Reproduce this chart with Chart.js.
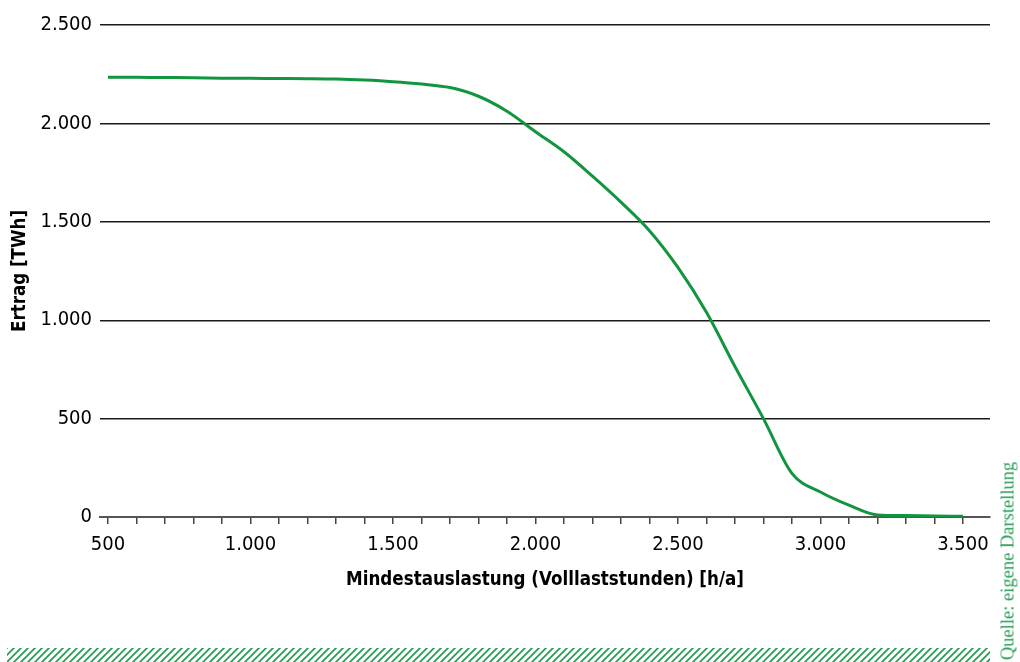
<!DOCTYPE html>
<html lang="de">
<head>
<meta charset="utf-8">
<script src="https://cdn.jsdelivr.net/npm/chart.js@4.4.1/dist/chart.umd.min.js"></script>
<style>
  html, body { margin: 0; padding: 0; background: #fff; }
  #wrap { position: relative; width: 1020px; height: 662px; overflow: hidden; }
  #c { position: absolute; left: 0; top: 0; }
  #hatch {
    position: absolute; left: 7px; top: 648px; width: 983px; height: 14px;
    background-image: url("data:image/svg+xml;utf8,<svg xmlns='http://www.w3.org/2000/svg' width='7' height='7'><path d='M-1,8 L8,-1 M-1,1 L1,-1 M6,8 L8,6' stroke='%232a9d55' stroke-width='1.8'/></svg>");
    background-repeat: repeat;
  }
  #src {
    position: absolute; left: 1008px; top: 561px;
    transform: translate(-50%, -50%) rotate(-90deg);
    white-space: nowrap;
    font-family: "Liberation Serif", "DejaVu Serif", serif;
    font-size: 18.5px; color: #2a9d55;
  }
</style>
</head>
<body>
<div id="wrap">
  <canvas id="c" width="1020" height="662"></canvas>
  <div id="hatch"></div>
  <div id="src">Quelle: eigene Darstellung</div>
</div>
<script>
// Mindestauslastung (Volllaststunden) [h/a]
const hours = [500, 600, 700, 800, 900, 1000, 1100, 1200, 1300, 1400, 1500, 1600, 1700, 1800, 1900, 2000, 2100, 2200, 2300, 2400, 2500, 2600, 2700, 2800, 2900, 3000, 3100, 3200, 3300, 3400, 3500];
// Ertrag [TWh]
const yieldTWh = [2235, 2234, 2233, 2232, 2230, 2229, 2228, 2227, 2225, 2220, 2212, 2200, 2182, 2138, 2062, 1958, 1856, 1732, 1600, 1455, 1268, 1040, 765, 500, 222, 127, 60, 10, 7, 5, 4];

const xTickValues = [500, 600, 700, 800, 900, 1000, 1100, 1200, 1300, 1400, 1500, 1600, 1700, 1800, 1900, 2000, 2100, 2200, 2300, 2400, 2500, 2600, 2700, 2800, 2900, 3000, 3100, 3200, 3300, 3400, 3500];
const xLabelValues = [500, 1000, 1500, 2000, 2500, 3000, 3500];
const yTickValues = [0, 500, 1000, 1500, 2000, 2500];

const xTitle = 'Mindestauslastung (Volllaststunden) [h/a]';
const yTitle = 'Ertrag [TWh]';

function fmtDE(v) {
  return String(v).replace(/\B(?=(\d{3})+(?!\d))/g, '.');
}

const FONT = '"DejaVu Sans Condensed", "DejaVu Sans", sans-serif';

new Chart(document.getElementById('c'), {
  type: 'line',
  data: {
    datasets: [{
      data: hours.map((h, i) => ({ x: h, y: yieldTWh[i] })),
      borderColor: '#12953f',
      borderWidth: 3,
      pointRadius: 0,
      fill: false,
      cubicInterpolationMode: 'monotone'
    }]
  },
  options: {
    responsive: false,
    animation: false,
    events: [],
    layout: { padding: { top: 25, right: 30, bottom: 67, left: 0 } },
    plugins: { legend: { display: false }, tooltip: { enabled: false } },
    scales: {
      x: {
        type: 'linear',
        min: 472,
        max: 3595,
        afterFit: s => { s.height = 78; },
        afterBuildTicks: s => { s.ticks = xTickValues.map(v => ({ value: v })); },
        grid: { drawOnChartArea: false, drawTicks: true, tickLength: 7, color: '#444', lineWidth: 1.5 },
        border: { display: true, color: '#555', width: 2 },
        ticks: {
          autoSkip: false, maxRotation: 0, padding: 9,
          color: '#000',
          font: { family: FONT, size: 20 },
          callback: v => xLabelValues.includes(v) ? fmtDE(v) : ''
        },
        title: {
          display: true, text: xTitle, color: '#000',
          font: { family: FONT, size: 18.6, weight: 'bold' },
          padding: { top: 0, bottom: 4 }
        }
      },
      y: {
        type: 'linear',
        min: 0,
        max: 2500,
        afterFit: s => { s.width = 100; },
        afterBuildTicks: s => { s.ticks = yTickValues.map(v => ({ value: v })); },
        grid: {
          drawTicks: false,
          lineWidth: 1.4,
          color: c => c.tick && c.tick.value === 0 ? 'rgba(0,0,0,0)' : '#1a1a1a'
        },
        border: { display: false },
        ticks: {
          padding: 8, color: '#000',
          font: { family: FONT, size: 20 },
          callback: v => fmtDE(v)
        },
        title: {
          display: true, text: yTitle, color: '#000',
          font: { family: FONT, size: 18.6, weight: 'bold' },
          padding: { top: 9, bottom: 0 }
        }
      }
    }
  }
});
</script>
</body>
</html>
